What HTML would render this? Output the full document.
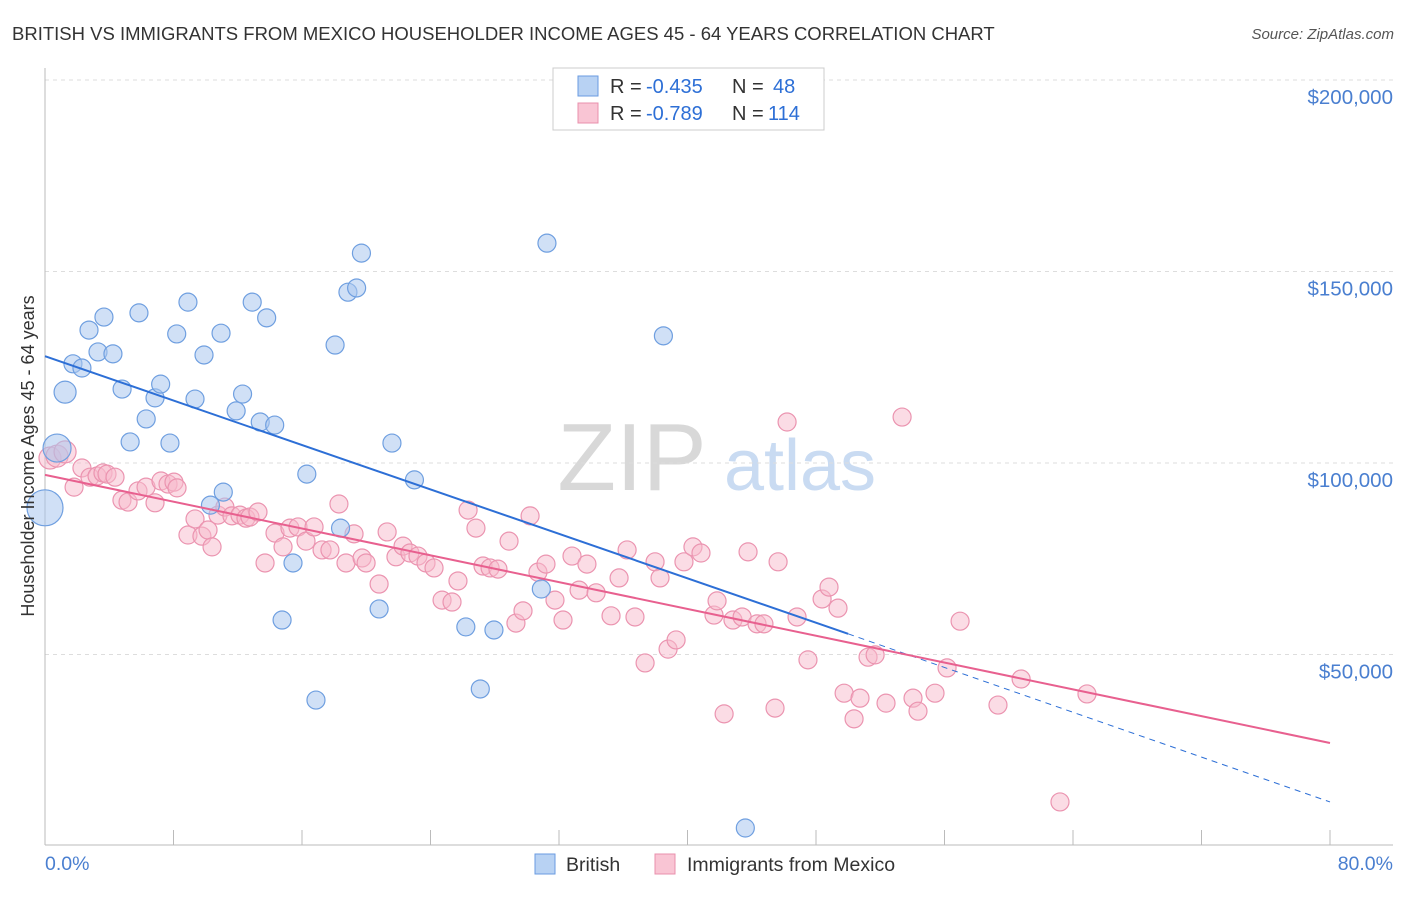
<!DOCTYPE html>
<html><head><meta charset="utf-8">
<style>
body{margin:0;background:#fff;font-family:"Liberation Sans",sans-serif;}
svg text{font-family:"Liberation Sans",sans-serif;}
</style></head>
<body>
<svg id="chart" width="1406" height="892" viewBox="0 0 1406 892" xmlns="http://www.w3.org/2000/svg">
<text x="12" y="40" font-size="18.5" fill="#333">BRITISH VS IMMIGRANTS FROM MEXICO HOUSEHOLDER INCOME AGES 45 - 64 YEARS CORRELATION CHART</text>
<text x="1394" y="39" font-size="15" fill="#555" font-style="italic" text-anchor="end">Source: ZipAtlas.com</text>
<g>
<text x="632" y="490" font-size="96" fill="#d8d8d8" font-family="Liberation Serif, serif" text-anchor="middle">ZIP</text>
<text x="800" y="490" font-size="72" fill="#c9dbf2" text-anchor="middle">atlas</text>
</g>
<g id="grid"></g>
<g id="axes"></g>
<g id="marks"></g>
<text transform="translate(34,456) rotate(-90)" font-size="18" fill="#333" text-anchor="middle">Householder Income Ages 45 - 64 years</text>
<g>
<rect x="553" y="68" width="271" height="62" fill="#fff" stroke="#ccc"/>
<rect x="578" y="76" width="20" height="20" fill="#b8d2f3" stroke="#6a9be0"/>
<rect x="578" y="103" width="20" height="20" fill="#f9c5d4" stroke="#e990ac"/>
<text x="610" y="93" font-size="20" fill="#333">R =</text>
<text x="646" y="93" font-size="20" fill="#2d6fd6">-0.435</text>
<text x="732" y="93" font-size="20" fill="#333">N =</text>
<text x="773" y="93" font-size="20" fill="#2d6fd6">48</text>
<text x="610" y="120" font-size="20" fill="#333">R =</text>
<text x="646" y="120" font-size="20" fill="#2d6fd6">-0.789</text>
<text x="732" y="120" font-size="20" fill="#333">N =</text>
<text x="768" y="120" font-size="20" fill="#2d6fd6">114</text>
</g>
<g>
<rect x="535" y="854" width="20" height="20" fill="#b8d2f3" stroke="#6a9be0"/>
<text x="566" y="871" font-size="19.5" fill="#333">British</text>
<rect x="655" y="854" width="20" height="20" fill="#f9c5d4" stroke="#e990ac"/>
<text x="687" y="871" font-size="19.5" fill="#333">Immigrants from Mexico</text>
</g>
</svg>
<script>
const britishX=[0,0.75,1.25,1.74,2.3,2.74,3.3,3.67,4.23,4.8,5.3,5.85,6.3,6.85,7.2,7.78,8.2,8.9,9.34,9.9,10.3,10.96,11.1,11.9,12.3,12.9,13.4,13.8,14.3,14.76,15.44,16.3,16.87,18.06,18.4,18.86,19.4,19.7,20.8,21.6,23,26.2,27.1,27.95,30.9,31.25,38.5,43.6];
const britishY=[88.3,103.9,118.5,125.9,124.8,134.7,129,138.1,128.5,119.3,105.5,139.2,111.5,117,120.6,105.2,133.7,142,116.7,128.2,89,133.9,92.4,113.6,118,142,110.7,137.9,109.9,59,73.9,97.1,38.1,130.8,83,144.6,145.7,154.8,61.9,105.2,95.6,57.2,41,56.4,67.1,157.4,133.2,4.7];
const mexicoX=[0.31,0.75,1.25,1.81,2.3,2.8,3.24,3.61,3.86,4.36,4.79,5.17,5.79,6.29,6.85,7.22,7.66,8.03,8.22,8.9,9.34,9.77,10.15,10.4,10.77,11.2,11.64,12.14,12.51,12.76,13.26,13.7,14.32,14.82,15.25,15.75,16.25,16.75,17.25,17.74,18.3,18.74,19.24,19.74,19.99,20.8,21.3,21.85,22.29,22.72,23.22,23.72,24.22,24.72,25.34,25.71,26.34,26.83,27.27,27.71,28.2,28.89,29.32,29.76,30.2,30.69,31.19,31.75,32.25,32.81,33.25,33.74,34.31,35.24,35.74,36.24,36.73,37.36,37.98,38.29,38.79,39.29,39.78,40.34,40.84,41.65,41.84,42.28,42.83,43.4,43.77,44.33,44.76,45.45,45.64,46.2,46.82,47.5,48.38,48.81,49.37,49.75,50.37,50.74,51.24,51.68,52.36,53.36,54.04,54.35,55.41,56.16,56.97,59.33,60.77,63.19,64.87];
const mexicoY=[101.3,101.8,102.9,93.7,98.7,96.3,96.6,97.4,97.1,96.3,90.3,89.8,92.7,93.7,89.6,95.3,94.5,95,93.5,81.2,85.4,80.9,82.5,78.1,86.4,88.5,86.2,86.4,85.6,85.9,87.2,73.9,81.7,78.1,83,83.3,79.6,83.3,77.3,77.3,89.3,73.9,81.5,75.2,73.9,68.4,82,75.5,78.3,76.5,75.7,73.9,72.6,64.2,63.7,69.2,87.7,83,73.1,72.6,72.3,79.6,58.2,61.4,86.2,71.5,73.6,64.2,59,75.7,66.8,73.6,66.1,60.1,70,77.3,59.8,47.8,74.2,70,51.4,53.8,74.2,78.1,76.5,60.3,64,34.5,59,59.8,76.8,58,58,36,74.2,110.7,59.8,48.6,64.5,67.6,62.1,39.9,33.2,38.6,49.3,49.9,37.3,112,38.6,35.2,39.9,46.5,58.7,36.8,43.6,11.5,39.7];
const britishTrendX=[0,50,80];
const britishTrendY=[127.9,55.4,11.5];
const mexicoTrendX=[0,80];
const mexicoTrendY=[96.9,26.9];
const yTicks=[50,100,150,200];
const yTickLabels=["$50,000","$100,000","$150,000","$200,000"];

const NS="http://www.w3.org/2000/svg";
const sx=v=>45+v/80*1285;
const sy=v=>846-v/50*191.5;
function mk(tag,attrs,parent){const e=document.createElementNS(NS,tag);for(const k in attrs)e.setAttribute(k,attrs[k]);parent.appendChild(e);return e;}
const grid=document.getElementById('grid'),axes=document.getElementById('axes'),marks=document.getElementById('marks');
yTicks.forEach((t,i)=>{
  const l=mk('line',{x1:45,x2:1393,y1:sy(t),y2:sy(t),stroke:'#ddd','stroke-dasharray':'4,4'},grid);
  
  
  const tx=mk('text',{x:1393,y:sy(t)+24,'font-size':20.5,fill:'#4a7fd0','text-anchor':'end'},axes);
  tx.textContent=yTickLabels[i];
  
  
});
const ax=mk('line',{x1:45,x2:1393,y1:845,y2:845,stroke:'#bbb'},axes);


const ay=mk('line',{x1:45,x2:45,y1:68,y2:845,stroke:'#bbb'},axes);


for(let i=0;i<=10;i++){
  const tk=mk('line',{x1:sx(i*8),x2:sx(i*8),y1:830,y2:845,stroke:'#bbb'},axes);
  
  
}
const xl0=mk('text',{x:45,y:870,'font-size':19.5,fill:'#4a7fd0'},axes);xl0.textContent='0.0%';


const xl1=mk('text',{x:1393,y:870,'font-size':19.5,fill:'#4a7fd0','text-anchor':'end'},axes);xl1.textContent='80.0%';



mexicoX.forEach((x,i)=>{
  const c=mk('circle',{cx:sx(x),cy:sy(mexicoY[i]),r:i<3?11:9,fill:'#f7b9cb','fill-opacity':0.5,stroke:'#eb94b0','stroke-width':1.2},marks);
  
  
});
britishX.forEach((x,i)=>{
  const c=mk('circle',{cx:sx(x),cy:sy(britishY[i]),r:i===0?18:(i===1?14:(i===2?11:9)),fill:'#a9c7ef','fill-opacity':0.55,stroke:'#6f9fe0','stroke-width':1.2},marks);
  
  
});
const bl=mk('line',{x1:sx(britishTrendX[0]),y1:sy(britishTrendY[0]),x2:sx(britishTrendX[1]),y2:sy(britishTrendY[1]),stroke:'#2d6fd6','stroke-width':2},marks);


const bd=mk('line',{x1:sx(britishTrendX[1]),y1:sy(britishTrendY[1]),x2:sx(britishTrendX[2]),y2:sy(britishTrendY[2]),stroke:'#2d6fd6','stroke-width':1,'stroke-dasharray':'6,5'},marks);


const pl=mk('line',{x1:sx(mexicoTrendX[0]),y1:sy(mexicoTrendY[0]),x2:sx(mexicoTrendX[1]),y2:sy(mexicoTrendY[1]),stroke:'#e8608f','stroke-width':2},marks);


</script>
</body></html>
